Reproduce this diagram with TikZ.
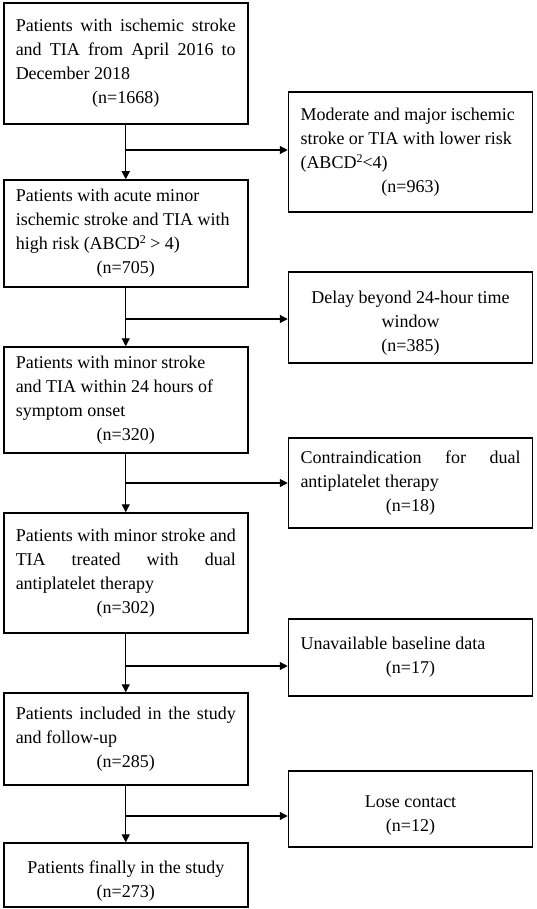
\documentclass[tikz,border=0pt]{standalone}
\usepackage{fontspec}
\setmainfont{Liberation Serif}
\usetikzlibrary{arrows.meta}
\tolerance=10000
\hbadness=10000
\newcommand\nl{\hfil\break}
\newcommand\ctr[1]{\par\hfill#1\hfill\null}
\newcommand\sq{\raisebox{0.75ex}{\fontsize{6}{6}\selectfont 2}}

\begin{document}
\begin{tikzpicture}[x=0.5pt,y=-0.5pt,
 box/.style={draw,line width=0.75pt,text width=110pt,inner xsep=6pt,inner ysep=3pt,
  align=justify,font=\fontsize{9}{12}\selectfont},
 arr/.style={line width=0.6pt,-{Triangle[length=4pt,width=4pt]}}]
 \fill[white] (0,0) rectangle (536,909);
 % main column
 \node[box,minimum height=60.5pt] (L1) at (125.75,63.5)
  {Patients with ischemic stroke\linebreak and TIA from April 2016 to\linebreak December 2018\ctr{(n=1668)}};
 \node[box,minimum height=53.5pt] (L2) at (125.75,233.5)
  {Patients with acute minor\nl ischemic stroke and TIA with\nl high risk (ABCD\sq{} > 4)\ctr{(n=705)}};
 \node[box,minimum height=53pt] (L3) at (125.75,400)
  {Patients with minor stroke\nl and TIA within 24 hours of\nl symptom onset\ctr{(n=320)}};
 \node[box,minimum height=60pt] (L4) at (125.75,573)
  {Patients with minor stroke and\linebreak TIA treated with dual\linebreak antiplatelet therapy\ctr{(n=302)}};
 \node[box,minimum height=46pt] (L5) at (125.75,739)
  {Patients included in the study\linebreak and follow-up\ctr{(n=285)}};
 \node[box,minimum height=30pt] (L6) at (125.75,875)
  {\ctr{Patients finally in the study}\ctr{(n=273)}};
 % excluded
 \node[box,minimum height=60pt] (R1) at (410.5,152)
  {Moderate and major ischemic\nl stroke or TIA with lower risk\nl (ABCD\sq{}<4)\ctr{(n=963)}};
 \node[box,minimum height=45.5pt] (R2) at (410.5,317.5)
  {\ctr{Delay beyond 24-hour time}\ctr{window}\ctr{(n=385)}};
 \node[box,minimum height=45pt] (R3) at (410.5,483)
  {Contraindication for dual\linebreak antiplatelet therapy\ctr{(n=18)}};
 \node[box,minimum height=38.5pt] (R4) at (410.5,657.5)
  {Unavailable baseline data\ctr{(n=17)}};
 \node[box,minimum height=38pt] (R5) at (410.5,809)
  {\ctr{Lose contact}\ctr{(n=12)}};
 \foreach \a/\b in {L1/L2,L2/L3,L3/L4,L4/L5,L5/L6}
  \draw[arr] (\a) -- (\b);
 \foreach \i/\y in {1/150,2/319,3/483,4/666,5/816}{
  \coordinate (b\i) at (125.75,\y);
  \draw[arr] (b\i) -- (b\i -| R\i.west);
 }
\end{tikzpicture}
\end{document}
